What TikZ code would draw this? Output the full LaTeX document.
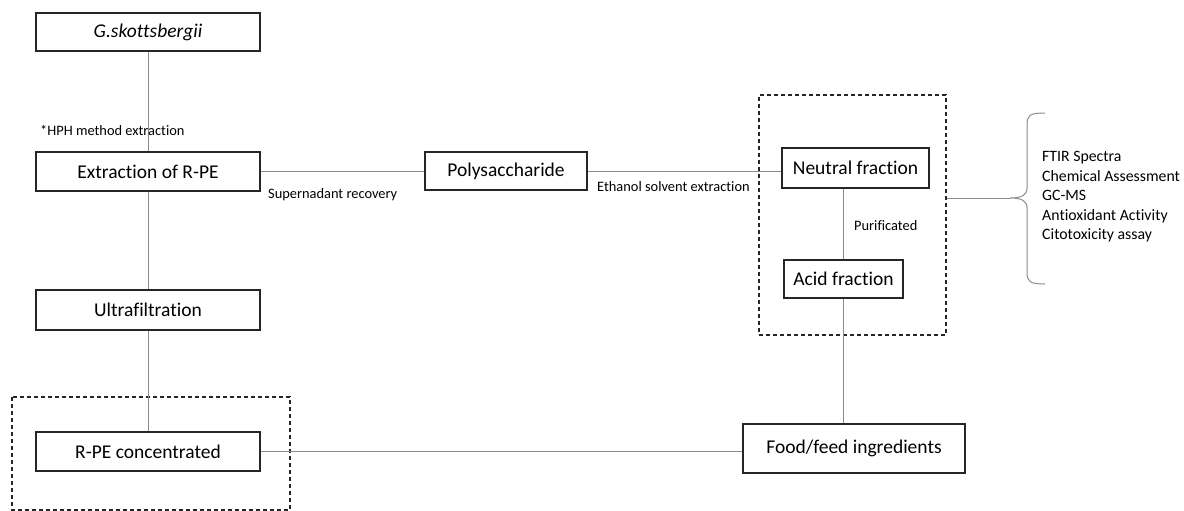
\documentclass[tikz,border=0pt]{standalone}
\usepackage{fontspec}
\setmainfont{Carlito}[Ligatures=NoCommon]
\begin{document}
\begin{tikzpicture}[x=1pt,y=-1pt,
  stepbox/.style={draw=black!85,line width=1.1pt,fill=white,inner sep=0pt,
    font=\fontsize{19.5}{22}\selectfont},
  link/.style={draw=black!45,line width=1pt},
  note/.style={anchor=west,inner sep=0pt,font=\fontsize{14.4}{16}\selectfont},
  groupbox/.style={draw=black!85,dashed,line width=1.1pt,dash pattern=on 4pt off 3pt}]
\useasboundingbox (0,0) rectangle (1184,511);

% dashed grouping frames
\draw[groupbox] (12,397) rectangle (290,510);
\node[groupbox,draw,minimum width=187pt,minimum height=240pt,inner sep=0pt]
  (fracbox) at (852.5,215) {};

% main process boxes
\node[stepbox,minimum width=224pt,minimum height=38pt] (g) at (148,32) {\itshape G.skottsbergii};
\node[stepbox,minimum width=224pt,minimum height=39pt] (ext) at (148,171.5) {Extraction of R-PE};
\node[stepbox,minimum width=224pt,minimum height=40pt] (ultra) at (148,310) {Ultrafiltration};
\node[stepbox,minimum width=224pt,minimum height=39pt] (rpe) at (148,451.5) {R-PE concentrated};
\node[stepbox,minimum width=162pt,minimum height=38pt] (poly) at (506,171) {Polysaccharide};
\node[stepbox,minimum width=147pt,minimum height=40pt] (neutral) at (855.5,168) {Neutral fraction};
\node[stepbox,minimum width=119pt,minimum height=38pt] (acid) at (843.5,279) {Acid fraction};
\node[stepbox,minimum width=222pt,minimum height=49pt] (food) at (854,448.5) {Food/feed ingredients};

% connectors
\draw[link] (g) -- (ext);
\draw[link] (ext) -- (ultra);
\draw[link] (ultra) -- (rpe);
\draw[link] (ext.east) -- (ext.east -| poly.west);
\draw[link] (poly.east) -- (poly.east -| neutral.west);
\draw[link] (acid.north) -- (acid.north |- neutral.south);
\draw[link] (acid.south) -- (acid.south |- food.north);
\draw[link] (rpe.east) -- (rpe.east -| food.west);

% analyses brace
\coordinate (tip) at (1010,198);
\draw[link] (fracbox.east |- tip) -- (tip);
\draw[link] (1045,113) .. controls (1030,113) and (1027,115) .. (1027,125)
  -- (1027,188) .. controls (1027,195) and (1022,198) .. (tip)
  .. controls (1022,198) and (1027,201) .. (1027,208)
  -- (1027,272) .. controls (1027,282) and (1030,284) .. (1045,284);
\node[anchor=west,inner sep=0pt,align=left,font=\fontsize{15.8}{19.5}\selectfont] (list) at (1042,197)
  {FTIR Spectra\\Chemical Assessment\\GC-MS\\Antioxidant Activity\\Citotoxicity assay};

% step labels
\node[note] (hph) at (40,130) {*HPH method extraction};
\node[note] (sup) at (268,195) {Supernadant recovery};
\node[note] (eth) at (597,187) {Ethanol solvent extraction};
\node[note] (pur) at (854,226) {Purificated};
\end{tikzpicture}
\end{document}
